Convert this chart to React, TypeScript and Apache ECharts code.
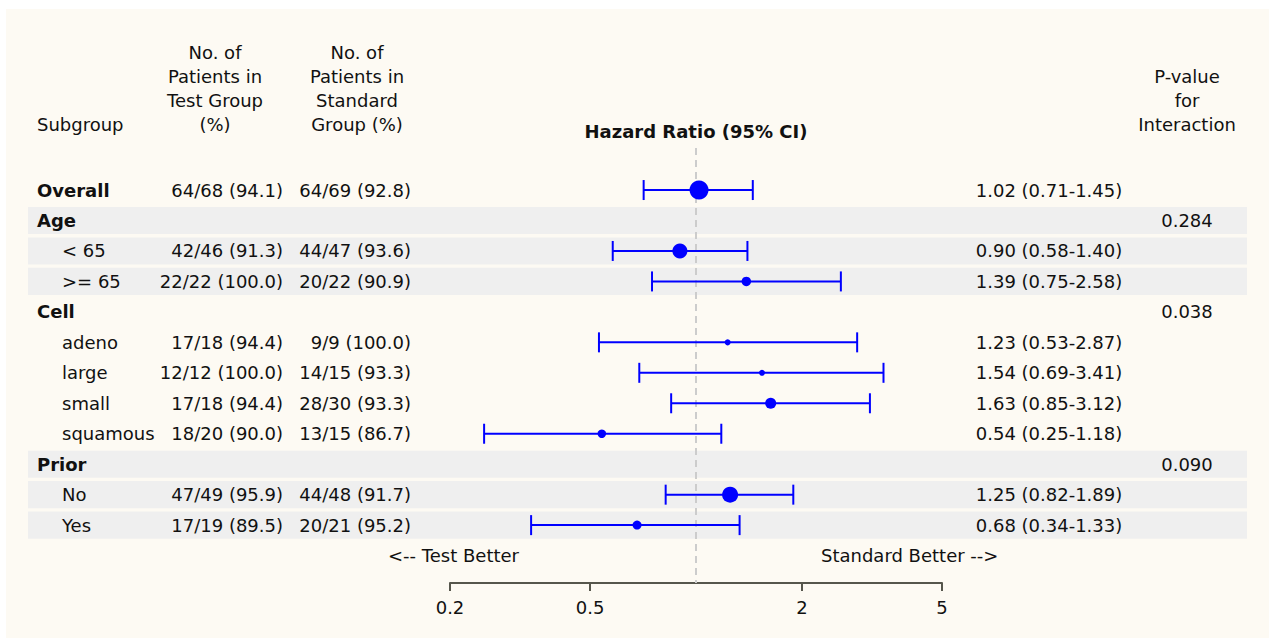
import React, { useEffect, useRef } from "react";
import * as echarts from "echarts";

// ---------- data ----------
const subgroups = ["Overall", "Age", "< 65", ">= 65", "Cell", "adeno", "large", "small", "squamous", "Prior", "No", "Yes"];
const isGroupHeader = [true, true, false, false, true, false, false, false, false, true, false, false];
const testGroupN = ["64/68 (94.1)", "", "42/46 (91.3)", "22/22 (100.0)", "", "17/18 (94.4)", "12/12 (100.0)", "17/18 (94.4)", "18/20 (90.0)", "", "47/49 (95.9)", "17/19 (89.5)"];
const standardGroupN = ["64/69 (92.8)", "", "44/47 (93.6)", "20/22 (90.9)", "", "9/9 (100.0)", "14/15 (93.3)", "28/30 (93.3)", "13/15 (86.7)", "", "44/48 (91.7)", "20/21 (95.2)"];
const hazardRatio = [1.02, null, 0.90, 1.39, null, 1.23, 1.54, 1.63, 0.54, null, 1.25, 0.68];
const ciLower = [0.71, null, 0.58, 0.75, null, 0.53, 0.69, 0.85, 0.25, null, 0.82, 0.34];
const ciUpper = [1.45, null, 1.40, 2.58, null, 2.87, 3.41, 3.12, 1.18, null, 1.89, 1.33];
const pInteraction = ["", "0.284", "", "", "0.038", "", "", "", "", "0.090", "", ""];
const markerWeight = [19, 0, 15, 9.5, 0, 6, 6, 11, 8.5, 0, 16, 9];
const shadedRows = [1, 2, 3, 9, 10, 11];
const xTicks = [0.2, 0.5, 2, 5];
const referenceValue = 1;

const FONT = '"DejaVu Sans", sans-serif';
const FS = 18;
const TXT = "#111";

export default function App() {
  const ref = useRef<HTMLDivElement>(null);

  useEffect(() => {
    document.body.style.margin = "0";
    const chart = echarts.init(ref.current!, null, { renderer: "svg" });

    const rows = subgroups.map((_, i) => i);
    const bandData = shadedRows.map((r) => [1, r]);
    const ciData: number[][] = [];
    const ptData: number[][] = [];
    rows.forEach((i) => {
      if (hazardRatio[i] != null) {
        ciData.push([ciLower[i] as number, ciUpper[i] as number, i]);
        ptData.push([hazardRatio[i] as number, i, markerWeight[i]]);
      }
    });
    const fmt = (v: number) => v.toFixed(2);

    const txt = (text: string, x: number, y: number, align: string, bold = false) => ({
      type: "text",
      x,
      y,
      style: {
        text,
        align,
        verticalAlign: "middle",
        textAlign: align,
        textVerticalAlign: "middle",
        fontSize: FS,
        fontFamily: FONT,
        fontWeight: bold ? "bold" : "normal",
        fill: TXT,
      },
    });

    const hdr = (text: string, x: number, y: number, align: string, bold = false) => ({
      type: "text",
      x,
      y,
      z: 10,
      style: {
        text,
        x: 0,
        y: 0,
        textAlign: align,
        textVerticalAlign: "middle",
        align,
        verticalAlign: "middle",
        lineHeight: 24,
        fontSize: FS,
        fontFamily: FONT,
        fontWeight: bold ? "bold" : "normal",
        fill: TXT,
      },
    });

    chart.setOption({
      animation: false,
      grid: { left: 450, width: 492, top: 148, height: 435 },
      xAxis: {
        type: "log",
        logBase: 10,
        min: 0.2,
        max: 5,
        splitLine: { show: false },
        axisLine: { show: true, onZero: false, lineStyle: { color: "#56564c", width: 2 } },
        axisTick: { show: true, length: 8, lineStyle: { color: "#56564c", width: 2 }, customValues: xTicks },
        axisLabel: {
          customValues: xTicks,
          margin: 15,
          color: TXT,
          fontSize: FS,
          fontFamily: FONT,
          formatter: (v: number) => String(v),
        },
      },
      yAxis: {
        type: "value",
        inverse: true,
        min: -1.38,
        max: 12.9,
        show: false,
      },
      graphic: [
        { type: "rect", z: -100, shape: { x: 6, y: 9, width: 1263, height: 629 }, style: { fill: "#FDFAF3" } },
        hdr("Subgroup", 37, 124, "left"),
        hdr("No. of\nPatients in\nTest Group\n(%)", 215, 88, "center"),
        hdr("No. of\nPatients in\nStandard\nGroup (%)", 357, 88, "center"),
        hdr("P-value\nfor\nInteraction", 1187, 100, "center"),
        hdr("Hazard Ratio (95% CI)", 696, 131, "center", true),
        hdr("<-- Test Better", 519, 555, "right"),
        hdr("Standard Better -->", 821, 555, "left"),
      ],
      series: [
        {
          type: "custom",
          name: "bands",
          z: 1,
          silent: true,
          clip: false,
          encode: { x: 0, y: 1 },
          data: bandData,
          renderItem: (params: any, api: any) => {
            const r = api.value(1);
            const top = api.coord([1, r - 0.445])[1];
            const bot = api.coord([1, r + 0.445])[1];
            return { type: "rect", shape: { x: 28, y: top, width: 1219, height: bot - top }, style: { fill: "#EFEFEF" } };
          },
        },
        {
          type: "custom",
          name: "reference",
          z: 2,
          silent: true,
          clip: false,
          encode: { x: 0, y: 1 },
          data: [[referenceValue, 0]],
          renderItem: (params: any, api: any) => {
            const v = api.value(0);
            const p1 = api.coord([v, -1.38]);
            const p2 = api.coord([v, 12.9]);
            return {
              type: "line",
              shape: { x1: p1[0], y1: p1[1], x2: p2[0], y2: p2[1] },
              style: { stroke: "#cccccc", lineWidth: 2, lineDash: [7, 5] },
            };
          },
        },
        {
          type: "custom",
          name: "ci",
          z: 3,
          clip: false,
          encode: { x: [0, 1], y: 2 },
          data: ciData,
          renderItem: (params: any, api: any) => {
            const r = api.value(2);
            const a = api.coord([api.value(0), r]);
            const b = api.coord([api.value(1), r]);
            const st = { stroke: "#0000FF", lineWidth: 2 };
            const cap = 10;
            return {
              type: "group",
              children: [
                { type: "line", shape: { x1: a[0], y1: a[1], x2: b[0], y2: b[1] }, style: st },
                { type: "line", shape: { x1: a[0], y1: a[1] - cap, x2: a[0], y2: a[1] + cap }, style: st },
                { type: "line", shape: { x1: b[0], y1: b[1] - cap, x2: b[0], y2: b[1] + cap }, style: st },
              ],
            };
          },
        },
        {
          type: "scatter",
          name: "hr",
          z: 4,
          data: ptData,
          symbol: "circle",
          symbolSize: (v: number[]) => v[2],
          itemStyle: { color: "#0000FF", opacity: 1 },
        },
        {
          type: "custom",
          name: "table",
          z: 5,
          silent: true,
          clip: false,
          encode: { x: 0, y: 1 },
          data: rows.map((r) => [1, r]),
          renderItem: (params: any, api: any) => {
            const i = api.value(1);
            const y = api.coord([1, i])[1];
            const children: any[] = [];
            children.push(txt(subgroups[i], isGroupHeader[i] ? 37 : 62, y, "left", isGroupHeader[i]));
            if (testGroupN[i]) children.push(txt(testGroupN[i], 283, y, "right"));
            if (standardGroupN[i]) children.push(txt(standardGroupN[i], 411, y, "right"));
            if (hazardRatio[i] != null) {
              children.push(
                txt(`${fmt(hazardRatio[i] as number)} (${fmt(ciLower[i] as number)}-${fmt(ciUpper[i] as number)})`, 1049, y, "center")
              );
            }
            if (pInteraction[i]) children.push(txt(pInteraction[i], 1187, y, "center"));
            return { type: "group", children };
          },
        },
      ],
    });

    return () => chart.dispose();
  }, []);

  return <div ref={ref} style={{ width: 1269, height: 638, background: "#ffffff" }} />;
}
